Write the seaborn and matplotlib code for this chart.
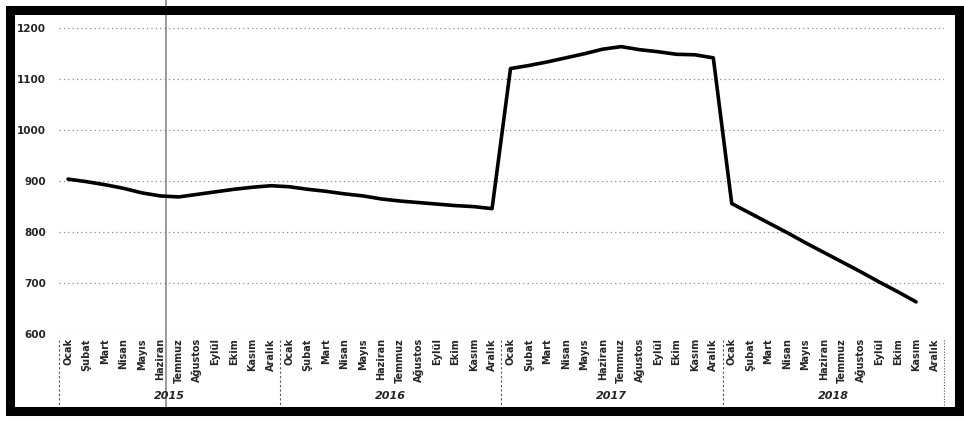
import matplotlib

matplotlib.use("Agg")

import numpy as np
import pandas as pd
import matplotlib.pyplot as plt
import matplotlib.transforms as mtransforms
from matplotlib.patches import Rectangle
import seaborn as sns

months = ["Ocak", "Şubat", "Mart", "Nisan", "Mayıs", "Haziran",
          "Temmuz", "Ağustos", "Eylül", "Ekim", "Kasım", "Aralık"]
years = [2015, 2016, 2017, 2018]

values_2015 = [904, 899, 893, 886, 877, 871, 869, 874, 879, 884, 888, 891]
values_2016 = [889, 884, 880, 875, 871, 865, 861, 858, 855, 852, 850, 846]
values_2017 = [1121, 1127, 1134, 1142, 1150, 1159, 1164, 1158, 1154, 1149, 1148, 1142]
values_2018 = [856, 837, 818, 799, 779, 760, 741, 722, 702, 683, 663, np.nan]

y_ticks = [600, 700, 800, 900, 1000, 1100, 1200]

rows = []
for year, vals in zip(years, [values_2015, values_2016, values_2017, values_2018]):
    for m, v in zip(months, vals):
        rows.append({"year": year, "month": m, "value": v})
df = pd.DataFrame(rows)
df["idx"] = np.arange(len(df))

sns.set_theme(style="white")
plt.rcParams["font.family"] = ["DejaVu Sans"]

fig = plt.figure(figsize=(9.64, 4.21), dpi=100)
ax = fig.add_axes([0.061, 0.2067, 0.918, 0.7503])

# dotted horizontal grid
for t in y_ticks:
    ax.axhline(t, color="#8a8a8a", lw=0.9, ls=(0, (1, 2.5)), zorder=0)

# gray cursor line just after Haziran 2015
cursor_x = df.loc[(df.year == 2015) & (df.month == "Haziran"), "idx"].iloc[0] + 0.3
ax.axvline(cursor_x, color="#808080", lw=1.1, ymin=-0.23, ymax=1.06,
           clip_on=False, zorder=1)

sns.lineplot(data=df, x="idx", y="value", color="black", lw=2.6, ax=ax,
             zorder=3)

ax.set_xlim(-0.5, len(df) - 0.5)
ax.set_ylim(600, 1220)
ax.set_yticks(y_ticks)
ax.set_yticklabels([str(t) for t in y_ticks], fontsize=7.5, fontweight="bold")
ax.set_xticks(df["idx"])
ax.set_xticklabels(df["month"], rotation=90, fontsize=7, fontweight="bold",
                   va="top")
ax.tick_params(axis="y", length=0, pad=9)
ax.tick_params(axis="x", length=0, pad=3)
ax.set_xlabel("")
ax.set_ylabel("")
for s in ax.spines.values():
    s.set_visible(False)

# year groups below the month labels
trans = mtransforms.blended_transform_factory(ax.transData, ax.transAxes)
n = len(months)
for k, year in enumerate(years):
    left = k * n - 0.5
    ax.plot([left, left], [-0.02, -0.225], transform=trans, color="#555555",
            lw=0.8, ls=(0, (2, 2)), clip_on=False)
    ax.text(k * n + (n - 1) / 2, -0.197, str(year), transform=trans,
            ha="center", va="center", fontsize=8, fontweight="bold",
            style="italic")
right = len(years) * n - 0.5
ax.plot([right, right], [-0.02, -0.225], transform=trans, color="#555555",
        lw=0.8, ls=(0, (1, 1.5)), clip_on=False)

# thick black frame
fig.patches.append(Rectangle((10 / 964, 10 / 421), 949 / 964, 401 / 421,
                             transform=fig.transFigure, fill=False,
                             ec="black", lw=6.5, zorder=10))

fig.savefig("out.png", dpi=100)
